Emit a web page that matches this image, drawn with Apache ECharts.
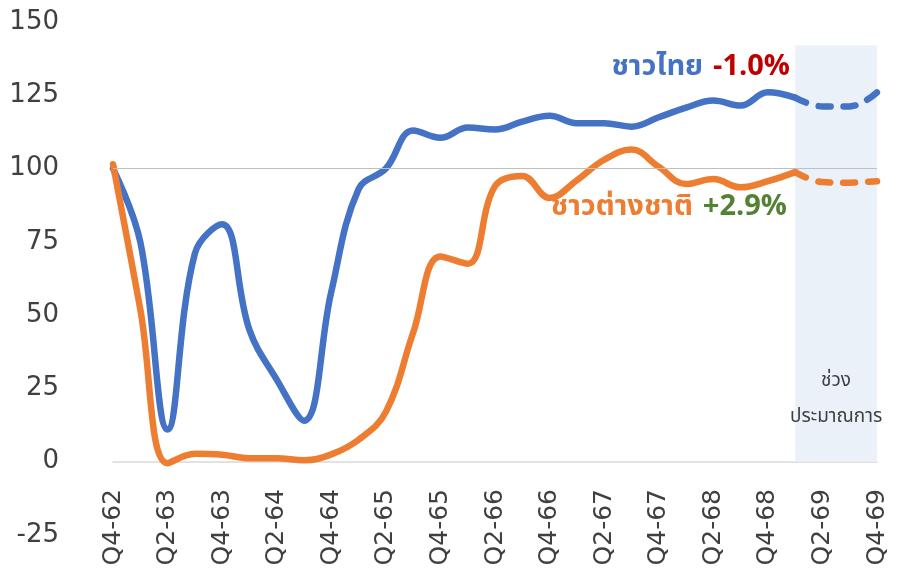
<!DOCTYPE html>
<html>
<head>
<meta charset="utf-8">
<script src="https://cdn.jsdelivr.net/npm/echarts@6/dist/echarts.min.js"></script>
<style>
  html, body { margin: 0; padding: 0; background: #fff; }
  #chart { width: 902px; height: 572px; }
</style>
</head>
<body>
<div id="chart"></div>
<script>
const quarters = ['Q4-62',
  'Q1-63', 'Q2-63', 'Q3-63', 'Q4-63',
  'Q1-64', 'Q2-64', 'Q3-64', 'Q4-64',
  'Q1-65', 'Q2-65', 'Q3-65', 'Q4-65',
  'Q1-66', 'Q2-66', 'Q3-66', 'Q4-66',
  'Q1-67', 'Q2-67', 'Q3-67', 'Q4-67',
  'Q1-68', 'Q2-68', 'Q3-68', 'Q4-68',
  'Q1-69', 'Q2-69', 'Q3-69', 'Q4-69']

// actual index values, Q4-62 .. Q1-69
const thaiActual = [100, 75, 11, 71, 81, 45, 28, 14, 58, 93, 100, 113, 110.5, 114, 113.3,
  116, 118, 115.5, 115.5, 114.3, 117.5, 120.8, 123.2, 121.5, 126, 124.2]
const foreignActual = [101.5, 52, -0.5, 2.7, 2.4, 1.2, 1.2, 0.5, 2.5, 7.5, 17, 44, 70, 67.5, 94,
  97.5, 90, 96, 103, 106.5, 100.6, 94.7, 96.4, 93.6, 95.7, 98.8]
// forecast, Q1-69 .. Q4-69
const thaiForecast = [124.2, 121.2, 121.2, 126]
const foreignForecast = [98.8, 95.4, 95.2, 95.7]

const yTicks = {min: -25, max: 150, interval: 25}
const forecastStart = 'Q1-69'
const forecastEnd = 'Q4-69'

const BLUE = '#4472C4'
const ORANGE = '#ED7D31'
const AXIS_FONT = 'DejaVu Sans, sans-serif'
const THAI_FONT = '"Noto Sans Thai", "Noto Sans", sans-serif'

function padForecast(values) {
  let out = quarters.map(() => '-')
  let start = quarters.indexOf(forecastStart)
  values.forEach((v, i) => { out[start + i] = v })
  return out
}

function lineSeries(name, color, data, dashed) {
  return {
    name,
    type: 'line',
    data,
    smooth: 0.4,
    symbol: 'none',
    connectNulls: false,
    lineStyle: {
      color,
      width: 6.5,
      cap: 'round',
      join: 'round',
      type: dashed ? [12, 13] : 'solid'
    },
    z: 3
  }
}

const chart = echarts.init(document.getElementById('chart'))

let thaiLine = lineSeries('ชาวไทย', BLUE, thaiActual, false)
thaiLine.markLine = {
  silent: true,
  symbol: 'none',
  label: {show: false},
  lineStyle: {color: '#BFBFBF', width: 1, type: 'solid'},
  data: [{yAxis: 100}]
}
thaiLine.markArea = {
  silent: true,
  itemStyle: {color: '#EAF1F9'},
  label: {
    show: true,
    position: 'insideBottom',
    distance: 26,
    formatter: 'ช่วง\nประมาณการ',
    fontFamily: THAI_FONT,
    fontSize: 19,
    lineHeight: 36,
    color: '#404040'
  },
  data: [[{xAxis: forecastStart, yAxis: 0}, {xAxis: forecastEnd, yAxis: 142}]]
}

chart.setOption({
  animation: false,
  grid: {left: 113, right: 25, top: 22, bottom: 37, outerBoundsMode: 'none', containLabel: false},
  xAxis: {
    type: 'category',
    data: quarters,
    boundaryGap: false,
    axisLine: {onZero: true, lineStyle: {color: '#D9D9D9', width: 1.5}},
    axisTick: {show: false},
    splitLine: {show: false},
    axisLabel: {
      interval: 1,
      rotate: 90,
      // labels hang below the zero line, which sits one tick above the grid bottom
      margin: -46,
      fontFamily: AXIS_FONT,
      fontSize: 25,
      color: '#404040'
    }
  },
  yAxis: {
    type: 'value',
    min: yTicks.min,
    max: yTicks.max,
    interval: yTicks.interval,
    axisLine: {show: false},
    axisTick: {show: false},
    splitLine: {show: false},
    axisLabel: {
      margin: 54,
      fontFamily: AXIS_FONT,
      fontSize: 26,
      color: '#404040'
    }
  },
  series: [
    thaiLine,
    lineSeries('ชาวไทย ประมาณการ', BLUE, padForecast(thaiForecast), true),
    lineSeries('ชาวต่างชาติ', ORANGE, foreignActual, false),
    lineSeries('ชาวต่างชาติ ประมาณการ', ORANGE, padForecast(foreignForecast), true)
  ],
  graphic: [
    {
      type: 'text',
      right: 112,
      top: 55,
      style: {
        text: '{a|ชาวไทย}{b|-1.0%}',
        rich: {
          a: {fontFamily: THAI_FONT, fontSize: 29, fontWeight: 'bold', fill: BLUE},
          b: {fontFamily: THAI_FONT, fontSize: 29, fontWeight: 'bold', fill: '#C00000', padding: [0, 0, 0, 10]}
        }
      }
    },
    {
      type: 'text',
      right: 115,
      top: 195,
      style: {
        text: '{a|ชาวต่างชาติ}{b|+2.9%}',
        rich: {
          a: {fontFamily: THAI_FONT, fontSize: 29, fontWeight: 'bold', fill: ORANGE},
          b: {fontFamily: THAI_FONT, fontSize: 29, fontWeight: 'bold', fill: '#548235', padding: [0, 0, 0, 10]}
        }
      }
    }
  ]
})
</script>
</body>
</html>
